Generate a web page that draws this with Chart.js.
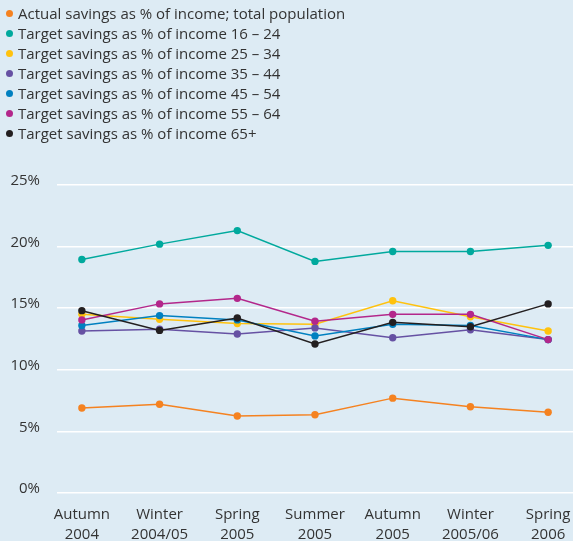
<!DOCTYPE html>
<html>
<head>
<meta charset="utf-8">
<script src="https://cdn.jsdelivr.net/npm/chart.js@4/dist/chart.umd.min.js"></script>
<style>
    body { margin: 0; background: #ddebf4; }
    #wrap { position: relative; width: 573px; height: 541px; background: #ddebf4; }
    #chart { position: absolute; left: 0; top: 0; }
    #legend { position: absolute; left: 0; top: 3px; font-family: "Open Sans", sans-serif; font-size: 15px; color: #333; }
    .item { height: 20px; line-height: 20px; position: relative; padding-left: 18px; white-space: nowrap; }
    .dot { position: absolute; left: 5.5px; top: 6.5px; width: 7px; height: 7px; border-radius: 50%; }
</style>
</head>
<body>
<div id="wrap">
    <canvas id="chart" width="573" height="541"></canvas>
    <div id="legend"></div>
</div>
<script>
const categories = [
    ['Autumn', '2004'], ['Winter', '2004/05'], ['Spring', '2005'], ['Summer', '2005'],
    ['Autumn', '2005'], ['Winter', '2005/06'], ['Spring', '2006']
];
const yTicks = [0, 5, 10, 15, 20, 25];

const seriesNames = [
    'Actual savings as % of income; total population',
    'Target savings as % of income 16 – 24',
    'Target savings as % of income 25 – 34',
    'Target savings as % of income 35 – 44',
    'Target savings as % of income 45 – 54',
    'Target savings as % of income 55 – 64',
    'Target savings as % of income 65+'
];
const seriesColors = ['#f58220', '#00a99d', '#ffc20e', '#6651a3', '#0080c0', '#b3278b', '#231f20'];

const actualTotal = [6.9, 7.2, 6.25, 6.35, 7.7, 7.0, 6.55];
const target16to24 = [18.95, 20.2, 21.3, 18.8, 19.6, 19.6, 20.1];
const target25to34 = [14.5, 14.1, 13.75, 13.7, 15.6, 14.3, 13.15];
const target35to44 = [13.15, 13.3, 12.9, 13.4, 12.6, 13.25, 12.45];
const target45to54 = [13.6, 14.4, 14.05, 12.75, 13.7, 13.6, 12.45];
const target55to64 = [14.05, 15.35, 15.8, 13.95, 14.5, 14.5, 12.45];
const target65plus = [14.8, 13.2, 14.2, 12.1, 13.85, 13.5, 15.35];

const allSeries = [actualTotal, target16to24, target25to34, target35to44, target45to54, target55to64, target65plus];

Chart.defaults.font.family = '"Open Sans", sans-serif';
Chart.defaults.font.size = 15;
Chart.defaults.color = '#333';

const datasets = allSeries.map((values, i) => ({
    label: seriesNames[i],
    data: values.map((v, idx) => ({ x: idx, y: v })),
    borderColor: seriesColors[i],
    backgroundColor: seriesColors[i],
    borderWidth: 1.5,
    pointRadius: 3.7,
    pointHoverRadius: 3.7,
    pointBorderWidth: 0,
    tension: 0,
    order: allSeries.length - i
}));

const ctx = document.getElementById('chart').getContext('2d');
new Chart(ctx, {
    type: 'line',
    data: { datasets: datasets },
    options: {
        responsive: false,
        animation: false,
        layout: { autoPadding: false, padding: { top: 185, left: 0, right: 0, bottom: 0 } },
        plugins: {
            legend: { display: false },
            tooltip: { enabled: false }
        },
        scales: {
            x: {
                type: 'linear',
                min: -0.32,
                max: 6.32,
                grid: { display: false, drawTicks: false },
                border: { display: false },
                afterBuildTicks: (scale) => {
                    scale.ticks = categories.map((c, i) => ({ value: i }));
                },
                afterFit: (scale) => {
                    scale.height = 48;
                    scale.paddingLeft = 0;
                    scale.paddingRight = 0;
                },
                ticks: {
                    padding: 12,
                    maxRotation: 0,
                    autoSkip: false,
                    font: { lineHeight: 1.3 },
                    callback: (value) => categories[value]
                }
            },
            y: {
                min: 0,
                max: 25,
                grid: { color: '#ffffff', lineWidth: 1.5, drawTicks: false },
                border: { display: false },
                afterBuildTicks: (scale) => {
                    scale.ticks = yTicks.map(v => ({ value: v }));
                },
                afterFit: (scale) => {
                    scale.width = 57;
                    scale.paddingTop = 0;
                    scale.paddingBottom = 0;
                },
                ticks: {
                    padding: 17,
                    labelOffset: -4,
                    callback: (value) => value + '%'
                }
            }
        }
    }
});

const legend = document.getElementById('legend');
seriesNames.forEach((name, i) => {
    const item = document.createElement('div');
    item.className = 'item';
    const dot = document.createElement('span');
    dot.className = 'dot';
    dot.style.background = seriesColors[i];
    item.appendChild(dot);
    item.appendChild(document.createTextNode(name));
    legend.appendChild(item);
});
</script>
</body>
</html>
